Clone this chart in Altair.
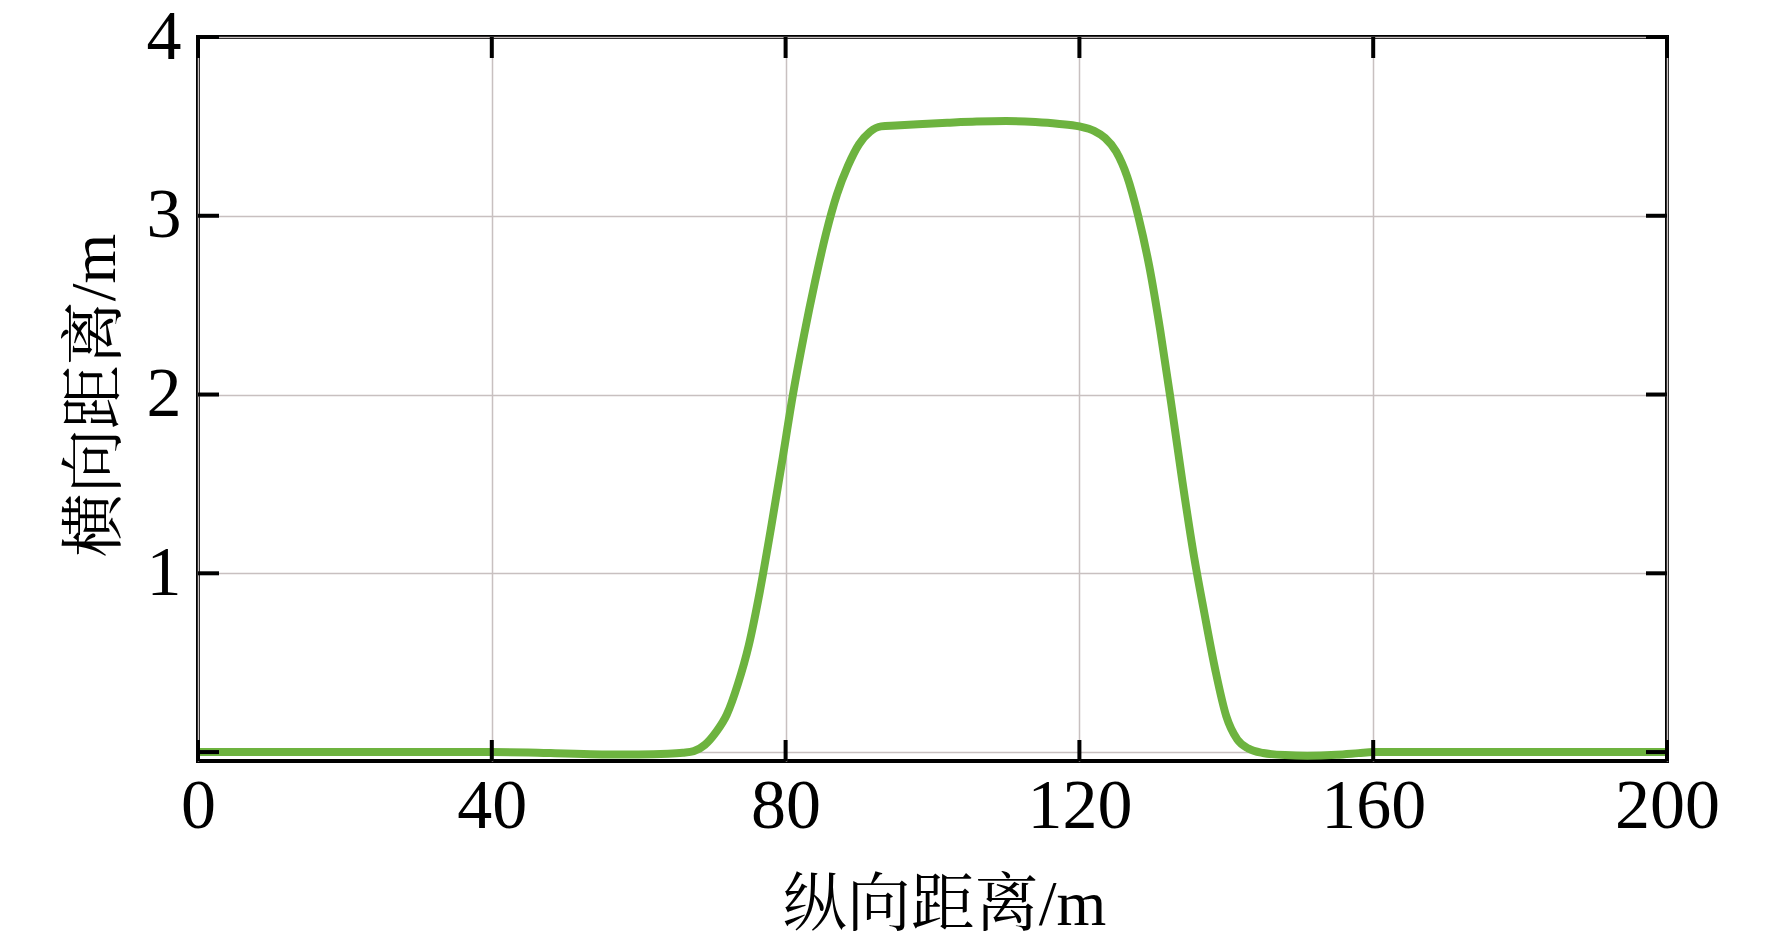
import altair as alt
import pandas as pd

# Curve
x_vals = [0, 10, 20, 30, 40, 45, 50, 55, 60, 64, 66, 67.5, 69, 70.5, 72, 73.5, 75, 76.5,
          78, 79.5, 81, 82.5, 84, 85.5, 87, 88.5, 90, 91.5, 93, 95, 98, 102, 106, 110,
          114, 117, 120, 122, 123.5, 125, 126.5, 128, 129.5, 131, 132.5, 134, 135.5,
          137, 138.5, 140, 141.5, 143, 145, 148, 151, 155, 158, 160, 170, 180, 190, 200]
y_vals = [0.0, 0.0, 0.0, 0.0, 0.0, -0.002, -0.008, -0.013, -0.014, -0.01, -0.004, 0.005,
          0.04, 0.11, 0.21, 0.38, 0.6, 0.9, 1.25, 1.62, 2.0, 2.33, 2.63, 2.9, 3.12, 3.28,
          3.4, 3.47, 3.5, 3.505, 3.512, 3.52, 3.527, 3.53, 3.524, 3.515, 3.5, 3.475,
          3.435, 3.36, 3.22, 3.0, 2.72, 2.36, 1.95, 1.52, 1.12, 0.78, 0.46, 0.2, 0.07,
          0.02, -0.005, -0.017, -0.02, -0.015, -0.006, 0.0, 0.0, 0.0, 0.0, 0.0]
x_ticks = [0, 40, 80, 120, 160, 200]
y_ticks = [0, 1, 2, 3, 4]

W, H = 1469, 724
TICK = 21
FONT = "Liberation Serif, Noto Serif CJK SC, Noto Sans CJK SC"

curve = pd.DataFrame({"x": x_vals, "y": y_vals})
xt = pd.DataFrame({"x": x_ticks})
yt = pd.DataFrame({"y": y_ticks})

xscale = alt.Scale(domain=[0, 200], nice=False, zero=False)
yscale = alt.Scale(domain=[-0.05, 4], nice=False, zero=False)

common_axis = dict(domain=False, ticks=False, tickSize=0, grid=True, gridColor="#c8c0c0",
                   gridWidth=1.5, labelFont=FONT, labelFontSize=70, labelColor="black",
                   labelFlush=False, labelOverlap=False, titleFont=FONT, titleFontSize=64,
                   titleFontWeight="normal", titleColor="black", titleAlign="center")

x_axis = alt.Axis(values=x_ticks, title="纵向距离/m", labelPadding=11,
                  titleX=746, titleY=163, titleBaseline="alphabetic", **common_axis)
y_axis = alt.Axis(values=y_ticks, labelExpr="datum.value == 0 ? '' : datum.label",
                  title="横向距离/m", labelPadding=17, titleAngle=270,
                  titleX=-84, titleY=358, titleBaseline="alphabetic", **common_axis)

line = alt.Chart(curve).mark_line(color="#6db33f", strokeWidth=8, interpolate="monotone").encode(
    x=alt.X("x:Q", scale=xscale, axis=x_axis),
    y=alt.Y("y:Q", scale=yscale, axis=y_axis),
)

tick_bottom = alt.Chart(xt).mark_rule(color="black", strokeWidth=4).encode(
    x=alt.X("x:Q", scale=xscale, axis=x_axis), y=alt.value(H), y2=alt.value(H - TICK))
tick_top = alt.Chart(xt).mark_rule(color="black", strokeWidth=4).encode(
    x=alt.X("x:Q", scale=xscale, axis=x_axis), y=alt.value(0), y2=alt.value(TICK))
tick_left = alt.Chart(yt).mark_rule(color="black", strokeWidth=4).encode(
    y=alt.Y("y:Q", scale=yscale, axis=y_axis), x=alt.value(0), x2=alt.value(TICK))
tick_right = alt.Chart(yt).mark_rule(color="black", strokeWidth=4).encode(
    y=alt.Y("y:Q", scale=yscale, axis=y_axis), x=alt.value(W), x2=alt.value(W - TICK))

chart = alt.layer(line, tick_bottom, tick_top, tick_left, tick_right).properties(
    width=W, height=H,
    padding={"left": 190, "top": 29, "right": 97, "bottom": 176},
    autosize=alt.AutoSizeParams(type="none"),
    background="white",
).configure_view(stroke="black", strokeWidth=4)

chart.save("out.html", embed_options={"renderer": "svg", "actions": False})
